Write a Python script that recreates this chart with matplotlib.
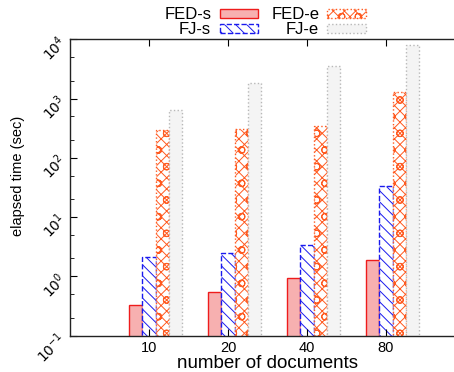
import matplotlib
matplotlib.use('Agg')
import matplotlib.pyplot as plt
import numpy as np
from matplotlib.ticker import FixedLocator, NullFormatter, FixedFormatter

categories = ['10', '20', '40', '80']
fed_s = [0.33, 0.54, 0.93, 1.85]
fj_s = [2.1, 2.5, 3.4, 33]
fed_e = [290, 310, 350, 1270]
fj_e = [650, 1850, 3600, 8000]
series_names = ['FED-s', 'FJ-s', 'FED-e', 'FJ-e']

plt.rcParams['font.family'] = ['Liberation Sans', 'DejaVu Sans']
plt.rcParams['hatch.linewidth'] = 0.7

W, H = 454, 372
fig = plt.figure(figsize=(W / 100, H / 100), dpi=100)
ax = fig.add_axes([70 / W, (H - 335.5) / H, (465 - 70) / W, (335.5 - 39.3) / H])

x = np.arange(1, len(categories) + 1)
w = 0.168
styles = [
    dict(facecolor='#f7b0b0', edgecolor='#ee1c1c', linewidth=1.0, linestyle='-'),
    dict(facecolor='white', edgecolor='#1a1aee', linewidth=1.0, linestyle='--', hatch='\\\\\\'),
    dict(facecolor='white', edgecolor='#ff5a20', linewidth=1.0, linestyle=':', hatch='xxxo'),
    dict(facecolor='#f4f4f4', edgecolor='#b8b8b8', linewidth=1.0, linestyle=':'),
]
data = [fed_s, fj_s, fed_e, fj_e]
handles = []
for i, (vals, st, name) in enumerate(zip(data, styles, series_names)):
    b = ax.bar(x + (i - 1) * w, vals, width=w, label=name, **st)
    handles.append(b)

ax.set_yscale('log')
ax.set_ylim(0.1, 1e4)
ax.set_xlim(0, 5)

majors = [0.1, 1, 10, 100, 1000, 10000]
ax.yaxis.set_major_locator(FixedLocator(majors))
ax.yaxis.set_major_formatter(FixedFormatter([r'$10^{-1}$', r'$10^{0}$', r'$10^{1}$',
                                             r'$10^{2}$', r'$10^{3}$', r'$10^{4}$']))
minors = [m * d for d in [0.1, 1, 10, 100, 1000] for m in (2, 5)]
ax.yaxis.set_minor_locator(FixedLocator(minors))
ax.yaxis.set_minor_formatter(NullFormatter())
ax.tick_params(axis='y', which='major', direction='in', length=5, width=0.8, labelsize=10, pad=5)
ax.tick_params(axis='y', which='minor', direction='in', length=3, width=0.6)
for lab in ax.get_yticklabels():
    lab.set_rotation(45)
    lab.set_rotation_mode('anchor')
    lab.set_ha('right')
    lab.set_va('center')

ax.set_xticks(x)
ax.set_xticklabels(categories)
ax.tick_params(axis='x', which='both', direction='in', length=5, width=0.8, labelsize=10.5,
               top=True, pad=4)
ax.xaxis.set_minor_locator(FixedLocator([]))

for s in ['left', 'bottom', 'top']:
    ax.spines[s].set_linewidth(1.0)
    ax.spines[s].set_color('#222222')
ax.spines['right'].set_visible(False)

ax.set_xlabel('number of documents', fontsize=13.5, labelpad=0)
ax.set_ylabel('elapsed time (sec)', fontsize=10.5)
ax.yaxis.set_label_coords((25 - 70) / 395, 0.54)

fig.legend(handles=handles, labels=series_names, ncol=2, markerfirst=False,
           loc='upper center', bbox_to_anchor=(265 / W, 1.012), frameon=False,
           fontsize=12, handlelength=2.3, handleheight=0.5, columnspacing=0.8,
           labelspacing=0.0, handletextpad=0.5, borderpad=0.2)

fig.savefig('out.png', dpi=100)
